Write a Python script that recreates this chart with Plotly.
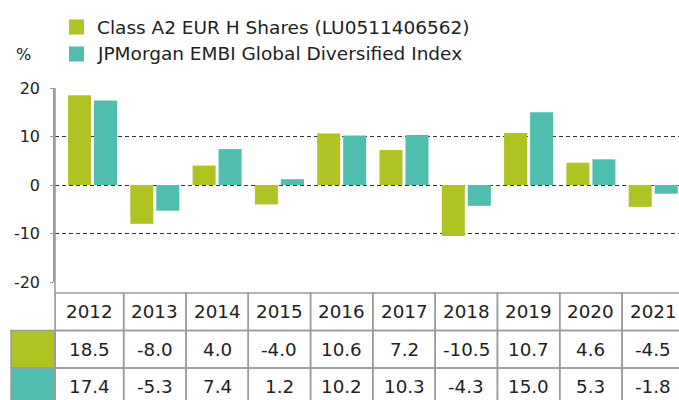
import plotly.graph_objects as go

# ---- data ----
years = ["2012", "2013", "2014", "2015", "2016", "2017", "2018", "2019", "2020", "2021"]
fund_values = [18.5, -8.0, 4.0, -4.0, 10.6, 7.2, -10.5, 10.7, 4.6, -4.5]
index_values = [17.4, -5.3, 7.4, 1.2, 10.2, 10.3, -4.3, 15.0, 5.3, -1.8]
fund_name = "Class A2 EUR H Shares (LU0511406562)"
index_name = "JPMorgan EMBI Global Diversified Index"
y_ticks = [-20, -10, 0, 10, 20]
y_tick_labels = ["-20", "-10", "0", "10", "20"]
unit_label = "%"

# ---- style ----
GREEN = "#AFC322"
TEAL = "#50BEAE"
TEXT = "#222222"
BORDER = "#9a9a9a"
GRID = "#333333"
FONT = "DejaVu Sans"

W, H = 679, 400
ML, MR, MT, MB = 55, 0, 88, 118
PW, PH = W - ML - MR, H - MT - MB
X_RANGE = [-0.602, 9.414]


def py(p):
    return (H - MB - p) / PH


def px(p):
    return (p - ML) / PW


fig = go.Figure()
fig.add_trace(go.Bar(x=years, y=fund_values, name=fund_name,
                     marker=dict(color=GREEN, line=dict(width=0))))
fig.add_trace(go.Bar(x=years, y=index_values, name=index_name,
                     marker=dict(color=TEAL, line=dict(width=0))))

shapes = []
annotations = []

# table rows (pixel bounds)
row_bounds = [(293, 330.5), (330.5, 368), (368, 405.5)]
row_texts = [years,
             [f"{v:.1f}" for v in fund_values],
             [f"{v:.1f}" for v in index_values]]
n = len(years)
for r, (top, bot) in enumerate(row_bounds):
    for i in range(n):
        x0 = X_RANGE[0] if i == 0 else i - 0.5
        x1 = i + 0.5
        shapes.append(dict(type="rect", xref="x", yref="paper",
                           x0=x0, x1=x1, y0=py(bot), y1=py(top),
                           line=dict(color=BORDER, width=1.5), layer="above"))
        annotations.append(dict(x=(x0 + x1) / 2, y=py((top + bot) / 2),
                                xref="x", yref="paper", text=row_texts[r][i],
                                showarrow=False, xanchor="center", yanchor="middle",
                                font=dict(size=18.3, color=TEXT, family=FONT)))

# swatch cells
for (top, bot), col in zip(row_bounds[1:], [GREEN, TEAL]):
    shapes.append(dict(type="rect", xref="paper", yref="paper",
                       x0=px(11), x1=0, y0=py(bot), y1=py(top),
                       fillcolor=col, line=dict(color=BORDER, width=1.5)))

# axis line extension down through the table
shapes.append(dict(type="line", xref="paper", yref="paper",
                   x0=0, x1=0, y0=py(406), y1=1,
                   line=dict(color=BORDER, width=1.5)))

# legend (manual)
for (yc, col, name) in [(27, GREEN, fund_name), (54, TEAL, index_name)]:
    shapes.append(dict(type="rect", xref="paper", yref="paper",
                       x0=px(69), x1=px(84), y0=py(yc + 7.5), y1=py(yc - 7.5),
                       fillcolor=col, line=dict(width=0)))
    annotations.append(dict(x=px(95), y=py(yc), xref="paper", yref="paper",
                            text=name, showarrow=False, xanchor="left", yanchor="middle",
                            font=dict(size=18.5, color=TEXT, family=FONT)))

annotations.append(dict(x=px(23), y=py(55), xref="paper", yref="paper",
                        text=unit_label, showarrow=False, xanchor="center", yanchor="middle",
                        font=dict(size=16, color=TEXT, family=FONT)))

fig.update_layout(
    width=W, height=H,
    margin=dict(l=ML, r=MR, t=MT, b=MB, pad=0),
    paper_bgcolor="white", plot_bgcolor="white",
    barmode="group", bargap=0.165, bargroupgap=0.115,
    showlegend=False,
    font=dict(family=FONT, color=TEXT),
    shapes=shapes, annotations=annotations,
    xaxis=dict(type="category", range=X_RANGE, showticklabels=False,
               showgrid=False, zeroline=False, showline=False, ticks=""),
    yaxis=dict(range=[-20, 20], tickvals=y_ticks, ticktext=y_tick_labels,
               showgrid=True, gridcolor=GRID, griddash="4px,3px", gridwidth=1,
               zeroline=False, showline=True, linecolor=BORDER, linewidth=1.5,
               ticks="outside", ticklen=3, tickcolor=BORDER, tickwidth=1,
               ticklabelstandoff=7,
               tickfont=dict(size=16, color=TEXT, family=FONT)),
)

fig.write_html("out.html")
